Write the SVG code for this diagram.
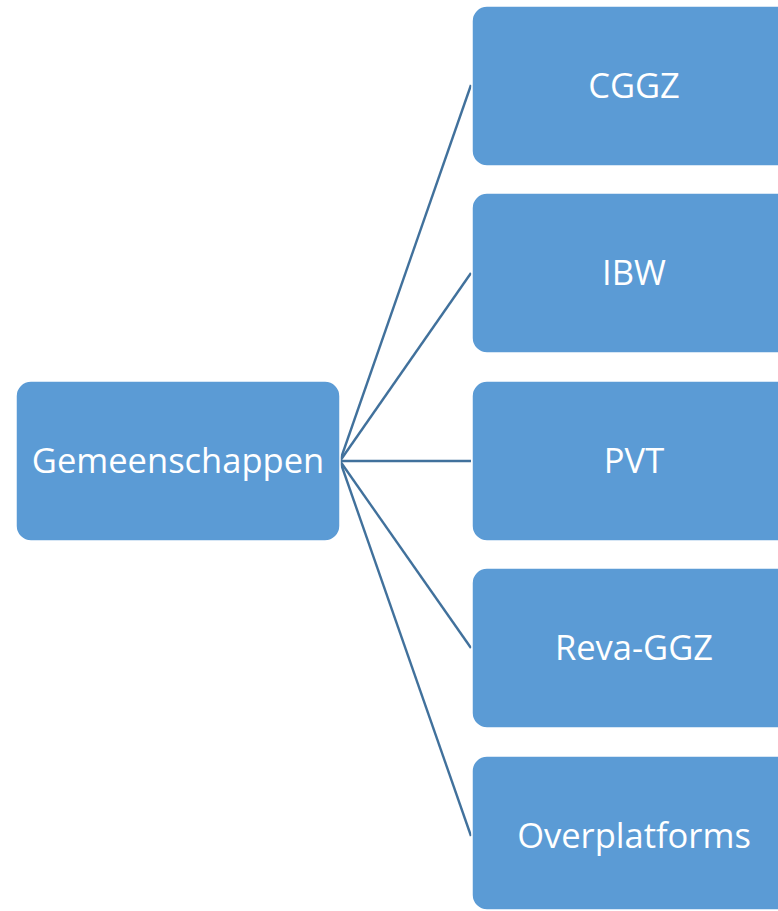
<svg xmlns="http://www.w3.org/2000/svg" width="778" height="911" viewBox="0 0 778 911">
<style>
.node{fill:#5B9BD5;stroke:#FFFFFF;stroke-width:1.5}
.lbl{fill:#FFFFFF;font-family:"Open Sans","Liberation Sans",sans-serif;font-size:34.5px;text-anchor:middle}
.con{stroke:#41719C;stroke-width:2.4;fill:none}
</style>
<rect width="778" height="911" fill="#FFFFFF"/>
<g id="connectors">
<line class="con" x1="340" y1="461" x2="471" y2="85"/>
<line class="con" x1="340" y1="461" x2="471" y2="273"/>
<line class="con" x1="340" y1="461" x2="471" y2="461"/>
<line class="con" x1="340" y1="461" x2="471" y2="648"/>
<line class="con" x1="340" y1="461" x2="471" y2="836"/>
</g>
<g id="gemeenschappen">
<rect class="node" x="16" y="381" width="324" height="160" rx="15"/>
<text class="lbl" x="178" y="473">Gemeenschappen</text>
</g>
<g id="cggz">
<rect class="node" x="472" y="6" width="324" height="160" rx="15"/>
<text class="lbl" x="634" y="98">CGGZ</text>
</g>
<g id="ibw">
<rect class="node" x="472" y="193" width="324" height="160" rx="15"/>
<text class="lbl" x="634" y="285">IBW</text>
</g>
<g id="pvt">
<rect class="node" x="472" y="381" width="324" height="160" rx="15"/>
<text class="lbl" x="634" y="473">PVT</text>
</g>
<g id="reva-ggz">
<rect class="node" x="472" y="568" width="324" height="160" rx="15"/>
<text class="lbl" x="634" y="660">Reva-GGZ</text>
</g>
<g id="overplatforms">
<rect class="node" x="472" y="756" width="324" height="154" rx="15"/>
<text class="lbl" x="634" y="848">Overplatforms</text>
</g>
</svg>
